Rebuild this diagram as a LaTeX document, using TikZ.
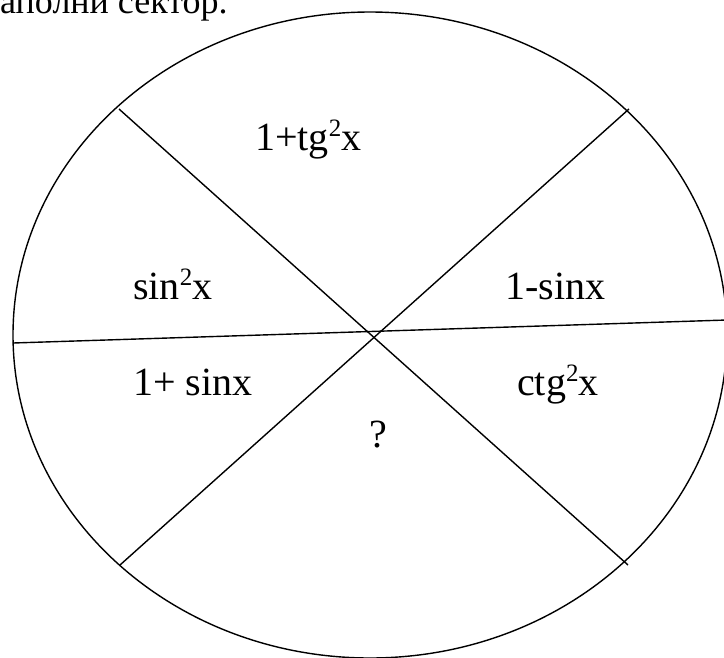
\documentclass[tikz,border=0pt]{standalone}
\usepackage{fontspec}
\setmainfont{Liberation Serif}
\newcommand{\sqr}{\raisebox{14pt}{\fontsize{25}{25}\selectfont 2}}
\tikzset{
  sector/.style={anchor=base west, inner sep=0pt, font=\fontsize{40}{48}\selectfont},
  cut/.style={line width=1.4pt}
}
\begin{document}
\begin{tikzpicture}[x=1pt, y=-1pt]
            \useasboundingbox (0,0) rectangle (724,657);
            \node[anchor=base west, inner sep=0pt, font=\fontsize{36}{40}\selectfont] (title) at (0,13) {аполни сектор.};
            \draw[cut] (370,335) ellipse [x radius=357pt, y radius=323pt];
            \coordinate (ul) at (119,109);
            \coordinate (ur) at (629,109);
            \coordinate (ll) at (120,565);
            \coordinate (lr) at (628,565);
            \coordinate (w)  at (13,343);
            \coordinate (e)  at (727,320);
            \draw[cut] (ul) -- (lr);
            \draw[cut] (ur) -- (ll);
            \draw[cut] (w) -- (e);
            \node[sector] (tg)   at (255,150) {1+tg\sqr x};
            \node[sector] (sin)  at (133,299) {sin\sqr x};
            \node[sector] (msin) at (505,299) {1-sinx};
            \node[sector] (psin) at (133,395) {1+ sinx};
            \node[sector] (ctg)  at (517,395) {ctg\sqr x};
            \node[sector] (q)    at (369,447) {?};
        \end{tikzpicture}
\end{document}
